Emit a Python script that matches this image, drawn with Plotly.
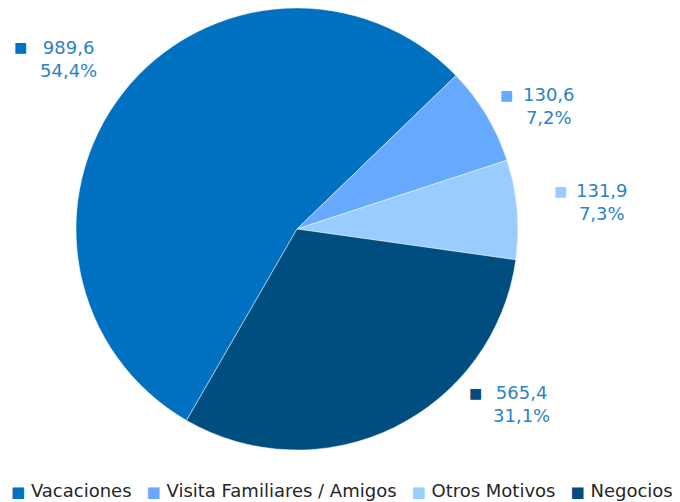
import plotly.graph_objects as go

# ---- data ----
categories = ["Vacaciones", "Visita Familiares / Amigos", "Otros Motivos", "Negocios"]
values = [989.6, 130.6, 131.9, 565.4]
colors = ["#0070C0", "#66AAFF", "#99CCFF", "#004D80"]

W, H = 680, 502
OFF = 8                      # page body margin
FW, FH = W - OFF, H - OFF    # figure size
LABEL_COLOR = "#2B83C6"
FONT = "DejaVu Sans"

total = sum(values)
def fmt_num(v):
    return f"{v:.1f}".replace(".", ",")
def fmt_pct(v):
    return f"{v / total * 100:.1f}%".replace(".", ",")

def px(x):
    return min(max((x - OFF) / FW, 0), 1)
def py(y):
    return min(max((H - y) / FH, 0), 1)

# pie geometry (window pixels)
cx, cy, r = 297, 229, 221

fig = go.Figure(go.Pie(
    labels=categories,
    values=values,
    sort=False,
    direction="clockwise",
    rotation=210,
    marker=dict(colors=colors, line=dict(color="rgba(255,255,255,0.6)", width=0.8)),
    textinfo="none",
    hoverinfo="label+value+percent",
    showlegend=False,
    domain=dict(x=[px(cx - r), px(cx + r)],
                y=[py(cy + r), py(cy - r)]),
))

# label placement (window pixels): text block centre and key square centre
label_pos = [(68, 59), (549, 106), (602, 202), (521, 404)]
key_pos = [(20, 47), (506, 95), (560, 191), (475, 393)]

annotations = []
for v, c, (tx, ty), (kx, ky) in zip(values, colors, label_pos, key_pos):
    annotations.append(dict(
        x=px(tx), y=py(ty), xref="paper", yref="paper",
        text=f"{fmt_num(v)}<br>{fmt_pct(v)}", showarrow=False,
        xanchor="center", yanchor="middle", align="center",
        font=dict(family=FONT, size=18, color=LABEL_COLOR),
    ))
    annotations.append(dict(
        x=px(kx), y=py(ky), xref="paper", yref="paper",
        text="■", showarrow=False, xanchor="center", yanchor="middle",
        font=dict(family=FONT, size=14, color=c),
    ))

# legend row built as a single text line
sq = "<span style='color:{c};font-size:15px'>■</span>"
legend_text = "\u00a0\u00a0\u2009".join(sq.format(c=c) + "\u00a0" + name
                                        for name, c in zip(categories, colors))
annotations.append(dict(
    x=px(342), y=py(490), xref="paper", yref="paper",
    text=legend_text, showarrow=False, xanchor="center", yanchor="middle",
    font=dict(family=FONT, size=18, color="#262626"),
))

fig.update_layout(
    width=FW, height=FH,
    margin=dict(l=0, r=0, t=0, b=0),
    paper_bgcolor="white", plot_bgcolor="white",
    annotations=annotations,
    showlegend=False,
)

fig.write_html("out.html")
